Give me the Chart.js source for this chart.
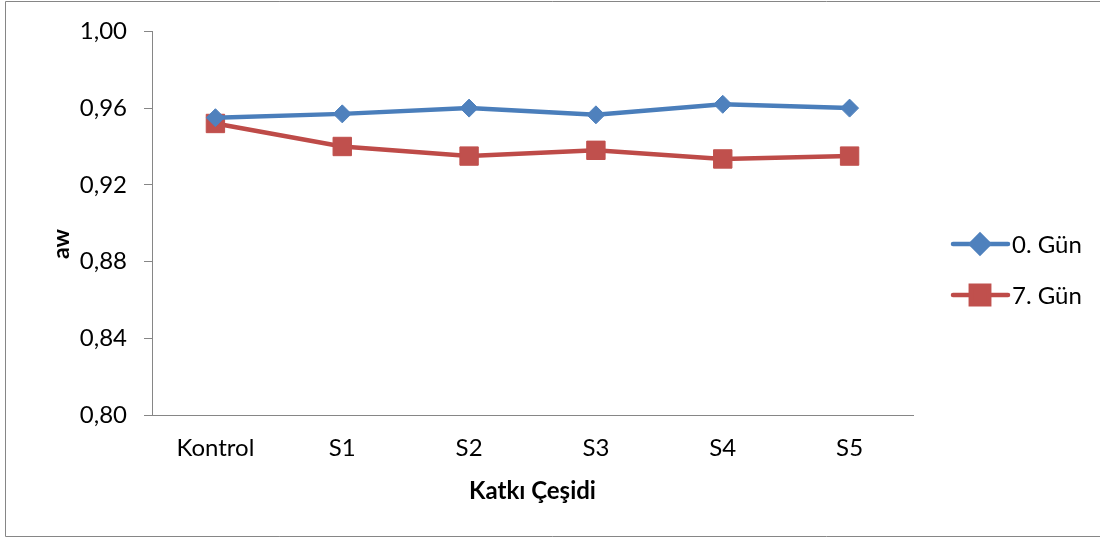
<!DOCTYPE html>
<html>
<head>
<meta charset="utf-8">
<script src="https://cdn.jsdelivr.net/npm/chart.js@4"></script>
<style>
  body { margin: 0; background: #fff; }
  #wrap { position: relative; width: 1100px; height: 540px; }
</style>
</head>
<body>
<div id="wrap"><canvas id="lineChart" width="1100" height="540"></canvas></div>
<script>
// categories and values
const categories = ['Kontrol', 'S1', 'S2', 'S3', 'S4', 'S5'];
const gun0 = [0.955, 0.957, 0.960, 0.9565, 0.962, 0.960];
const gun7 = [0.952, 0.940, 0.935, 0.938, 0.9335, 0.935];
const seriesNames = ['0. Gün', '7. Gün'];
const yTitle = 'aw';
const xTitle = 'Katkı Çeşidi';

const FONT = 'Lato, Calibri, "Open Sans", sans-serif';
const FS = 24;

// outer frame, y title and a legend with line + marker, like Excel
const extras = {
  id: 'extras',
  afterDraw(chart) {
    const ctx = chart.ctx;
    const area = chart.chartArea;
    ctx.save();

    // frame (left, top, bottom - right edge is cut off in the reference)
    ctx.strokeStyle = '#868686';
    ctx.lineWidth = 1;
    ctx.beginPath();
    ctx.moveTo(1100, 1.5);
    ctx.lineTo(5.5, 1.5);
    ctx.lineTo(5.5, 536.5);
    ctx.lineTo(1100, 536.5);
    ctx.stroke();

    // y axis title
    ctx.save();
    ctx.translate(62, 244);
    ctx.rotate(-Math.PI / 2);
    ctx.fillStyle = '#000';
    ctx.font = 'bold 23px ' + FONT;
    ctx.textAlign = 'center';
    ctx.textBaseline = 'middle';
    ctx.fillText(yTitle, 0, 0);
    ctx.restore();

    // legend
    const x0 = area.right + 40;
    const rows = [244, 295];
    chart.data.datasets.forEach((ds, i) => {
      const y = rows[i];
      ctx.strokeStyle = ds.borderColor;
      ctx.lineWidth = 4.5;
      ctx.lineCap = 'round';
      ctx.beginPath();
      ctx.moveTo(x0, y);
      ctx.lineTo(x0 + 55, y);
      ctx.stroke();
      ctx.fillStyle = ds.pointBackgroundColor;
      ctx.strokeStyle = ds.pointBorderColor;
      Chart.helpers.drawPoint(ctx, {
        pointStyle: ds.pointStyle,
        radius: ds.pointRadius,
        borderWidth: 1,
        rotation: 0
      }, x0 + 27, y);
      ctx.fillStyle = '#000';
      ctx.font = FS + 'px ' + FONT;
      ctx.textBaseline = 'middle';
      ctx.textAlign = 'left';
      ctx.fillText(ds.label, x0 + 59, y + 1);
    });
    ctx.restore();
  }
};

const lineChart = new Chart(document.getElementById('lineChart'), {
  type: 'line',
  data: {
    labels: categories,
    datasets: [
      {
        label: seriesNames[0],
        data: gun0,
        borderColor: '#4A7EBB',
        borderWidth: 4.5,
        pointStyle: 'rectRot',
        pointRadius: 9,
        pointBackgroundColor: '#4F81BD',
        pointBorderColor: '#4F81BD',
        pointBorderWidth: 1,
        tension: 0
      },
      {
        label: seriesNames[1],
        data: gun7,
        borderColor: '#BE4B48',
        borderWidth: 4.5,
        pointStyle: 'rect',
        pointRadius: 13,
        pointBackgroundColor: '#C0504D',
        pointBorderColor: '#C0504D',
        pointBorderWidth: 1,
        tension: 0
      }
    ]
  },
  options: {
    responsive: false,
    animation: false,
    layout: { padding: { left: 40, right: 187, top: 31, bottom: 20 } },
    plugins: {
      legend: { display: false },
      tooltip: { enabled: false }
    },
    scales: {
      x: {
        offset: true,
        grid: { display: false },
        border: { display: true, color: '#868686', width: 1 },
        ticks: { color: '#000', font: { family: FONT, size: FS }, padding: 11 },
        title: {
          display: true,
          text: xTitle,
          color: '#000',
          font: { family: FONT, size: FS, weight: 'bold' },
          padding: { top: 0, bottom: 14 }
        },
        afterFit(scale) { scale.height = 540 - 415 - 20; }
      },
      y: {
        min: 0.80,
        max: 1.00,
        grid: { drawOnChartArea: false, drawTicks: true, tickLength: 8, color: '#868686' },
        border: { display: true, color: '#868686', width: 1 },
        ticks: {
          stepSize: 0.04,
          color: '#000',
          padding: 17,
          font: { family: FONT, size: FS },
          callback: v => v.toFixed(2).replace('.', ',')
        },
        afterFit(scale) { scale.width = 152 - 40; }
      }
    }
  },
  plugins: [extras]
});
</script>
</body>
</html>
